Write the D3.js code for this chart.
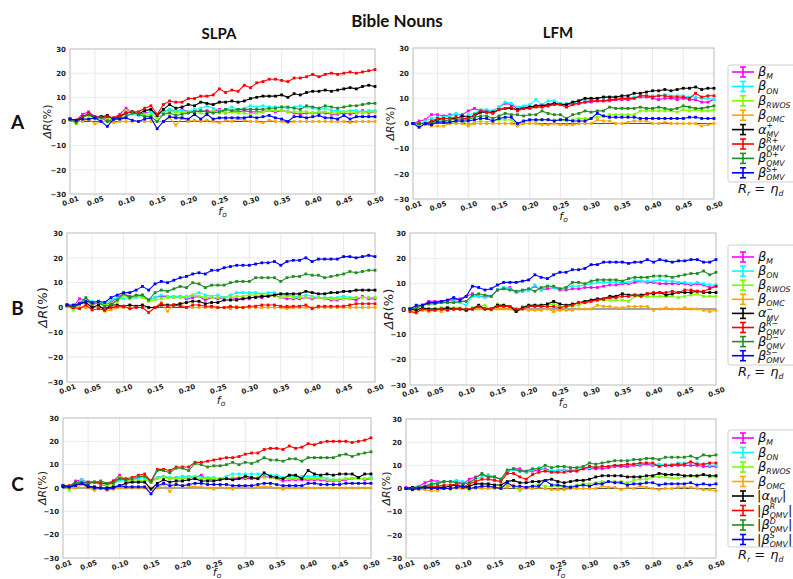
<!DOCTYPE html>
<html>
<head>
<meta charset="utf-8">
<script src="https://cdn.jsdelivr.net/npm/d3@7"></script>
<style>
  body { margin: 0; background: #fff; }
  svg { display: block; }
</style>
</head>
<body>
<svg id="chart" width="793" height="579"></svg>
<script>
// ---- shared axis values ----
const fo = [0.01, 0.02, 0.03, 0.04, 0.05, 0.06, 0.07, 0.08, 0.09, 0.10,
            0.11, 0.12, 0.13, 0.14, 0.15, 0.16, 0.17, 0.18, 0.19, 0.20,
            0.21, 0.22, 0.23, 0.24, 0.25, 0.26, 0.27, 0.28, 0.29, 0.30,
            0.31, 0.32, 0.33, 0.34, 0.35, 0.36, 0.37, 0.38, 0.39, 0.40,
            0.41, 0.42, 0.43, 0.44, 0.45, 0.46, 0.47, 0.48, 0.49, 0.50];
const xTicks = [0.01, 0.05, 0.10, 0.15, 0.20, 0.25, 0.30, 0.35, 0.40, 0.45, 0.50];
const yTicks = [-30, -20, -10, 0, 10, 20, 30];

// ---- row A, SLPA ----
const A_SLPA_M = [1, 0.5, 3, 4, 2, 2, 1, 1.5, 3, 5.5, 3.5, 3, 3.5, 4, 2.5, 4, 5, 4, 5, 4, 4.5, 4, 4.5, 4, 5, 3.5, 4, 4, 4.5, 4, 4, 4, 4.5, 4, 4.5, 4, 3.5, 3, 3.5, 3.5, 3.5, 3.5, 3, 3, 3.5, 3, 3.5, 4.5, 3.5, 4];
const A_SLPA_ON = [0.5, 0, 1.5, 3, 1, 2, 1.5, 1, 2.5, 3, 3, 2.5, 3, 4, 2.5, 4, 5, 4.5, 4.5, 4, 5, 5.5, 6.5, 5.5, 4.5, 5, 6, 5, 5.5, 6.5, 6, 6.5, 6, 6, 6, 5.5, 6, 6.5, 6, 5.5, 5, 5.5, 4.5, 4.5, 4, 4.5, 4.5, 4, 4.5, 4.5];
const A_SLPA_RWOS = [1, -1, 2, 2.5, 1.5, 2, 1.5, 1, 1.5, 4.5, 4, 3, 2.5, 3, 1.5, 3, 4, 4, 3.5, 4, 3.5, 3.5, 3, 4.5, 3.5, 3.5, 4, 3.5, 3.5, 3, 3.5, 4, 4.5, 4.5, 4.5, 4, 4, 4, 4, 3.5, 4, 4, 3.5, 3.5, 4, 4, 3.5, 3.5, 4, 4];
const A_SLPA_OMC = [1, 0, 0, 1, -1, 0, 0, -0.5, 0, 0, 0, 0, 0, 0, 0, 0, 1.5, -1.5, 1.5, 0, 0.5, 0, 0.5, 0, -0.5, 0.5, 0, 1, 0.5, 0, 0, -0.5, 0.5, 0, 0, -0.5, 0, 0, 0, 0, 0, 0, 0, 0, 0, -0.5, 0, 0, 0, 0];
const A_SLPA_ALPHA = [1, 0.5, 2, 3, 1.5, 2, 2.5, 1, 2, 3.5, 4, 3, 4.5, 5, 2.5, 5, 7, 5.5, 6, 7, 6.5, 8, 7.5, 7, 8, 8, 8.5, 8, 8.5, 9.5, 10, 10.5, 10.5, 10.5, 11, 10, 11.5, 11, 12, 12.5, 12.5, 13, 12.5, 13, 13.5, 14, 13.5, 14.5, 15, 14.5];
const A_SLPA_R = [1, 0.5, 2, 3.5, 2, 1.5, 2, 1.5, 2.5, 3.5, 4, 4, 5.5, 6.5, 3, 7, 8.5, 8, 8, 9.5, 9.5, 10.5, 10.5, 11, 13.5, 12, 13, 12.5, 15, 14, 16, 16.5, 17.5, 17.5, 17, 16.5, 18, 18, 18.5, 19.5, 18.5, 19.5, 20, 19.5, 20, 20.5, 20, 20.5, 21, 21.5];
const A_SLPA_D = [1, -0.5, 1.5, 3, 1.5, 1.5, 0, 1, 1.5, 2, 3.5, 3, 2, 2, 0, 3, 3.5, 2.5, 3, 3.5, 4, 4.5, 4, 3.5, 4, 5, 4.5, 5, 5, 5, 5, 5, 5.5, 5.5, 6, 6, 5.5, 5, 6.5, 6, 5.5, 6.5, 6, 5.5, 6, 6.5, 6.5, 7, 7.5, 7.5];
const A_SLPA_S = [1, 0.5, 1, 1, 1.5, 0, -2, 1, 1, 1.5, 0.5, 0, 1, 1.5, -3, 0, 2, 1.5, 1.5, 1, 3, 1, 3, 1, 1.5, 1.5, 1.5, 1.5, 1.5, 2, 1.5, 2, 2.5, 1.5, 1, 0, 2, 2, 1.5, 2, 2.5, 1.5, 1.5, 1, 2.5, 1, 2, 2, 2, 2];

// ---- row A, LFM ----
const A_LFM_M = [0, 1, 1.5, 3.5, 3.5, 3, 3.5, 3.5, 3.5, 5, 6, 5, 5, 5, 6.5, 8, 7.5, 6, 6.5, 6.5, 7, 7.5, 7, 8, 7.5, 7.5, 8, 8, 8.5, 8.5, 9, 9, 9, 9.5, 9.5, 9.5, 10, 10.5, 10.5, 10, 9.5, 10, 10, 9.5, 10, 9.5, 9.5, 8.5, 8.5, 9.5];
const A_LFM_ON = [0, -0.5, 1, 2, 2.5, 2.5, 3, 4, 3, 3.5, 4, 5.5, 5.5, 5, 6.5, 8.5, 8, 6.5, 7, 7.5, 9.5, 7.5, 9, 9, 8, 8, 8, 9, 9.5, 9.5, 10, 10.5, 10.5, 10.5, 10, 10, 10.5, 11, 11, 11, 11, 11.5, 11, 11, 11, 10.5, 10.5, 10, 10, 9.5];
const A_LFM_RWOS = [0, 0, 0, -0.5, 0.5, 1, 0.5, 0.5, 1, -0.5, 0.5, 1, 0.5, 1, 1.5, 1.5, 1.5, -0.5, 0.5, 1, 1, 1.5, 1.5, 1.5, 1.5, 1, 1.5, 2, 2, 2, 2.5, 3, 3.5, 3.5, 3.5, 3.5, 3.5, 5, 5, 5, 5, 5, 5, 4.5, 5.5, 5, 5.5, 5, 5, 5.5];
const A_LFM_OMC = [0, 0, -0.5, -1, -1, -1, 0, 0, 0, -1, 0, 0, 0, 0, 0, 0, 0, -1, 0, 0, 0, -0.5, -0.5, 0, -0.5, -0.5, -0.5, 0, 0, 0, 1.5, 1, 1, 0, 0, 0.5, 1, 1, 1, 0, 0, 0.5, 0, 0, 0, 0, 0, -1, -0.5, 0];
const A_LFM_ALPHA = [0, 0, 0, 0.5, 1.5, 2, 2, 2, 3, 2.5, 3, 4.5, 4.5, 4.5, 5.5, 6, 6, 5.5, 6, 6.5, 7, 7, 7.5, 8, 7.5, 7.5, 8.5, 9, 10, 10, 10, 10.5, 10.5, 10.5, 11, 11, 12, 12, 12.5, 13, 13, 13.5, 13, 13.5, 14, 14, 14.5, 13.5, 14, 14];
const A_LFM_R = [0, 0, 0, 1, 2, 2, 2, 2.5, 2, 2, 3.5, 5, 4.5, 4, 5.5, 6, 6.5, 5, 6, 6, 6.5, 6.5, 7, 7.5, 7.5, 6.5, 7.5, 8, 8.5, 9, 9, 9, 9.5, 9.5, 10, 10, 10, 11, 11, 10.5, 11, 11, 10.5, 10.5, 10.5, 10, 12, 10.5, 11, 11];
const A_LFM_D = [0, 0, 0, 0, 1, 1, 1.5, 1.5, 1.5, 1.5, 2.5, 3, 3, 2, 3, 4, 3.5, 3.5, 3, 3.5, 3.5, 5, 4, 3.5, 3.5, 2, 3.5, 4, 5, 4.5, 5, 5, 6.5, 6, 6, 6, 6, 6.5, 6, 6, 6.5, 6, 5.5, 6, 7, 6.5, 6, 6, 6.5, 7];
const A_LFM_S = [0, -1.5, 0, -0.5, 0.5, 0.5, 0.5, 1, 1, 1, 1.5, 2, 2, 1, 2, 2.5, 2.5, 0, 1, 1.5, 1.5, 1.5, 1.5, 1, 1.5, 1.5, 1, 1, 1, 2, 4, 3, 2.5, 2.5, 2.5, 2.5, 2.5, 2, 2, 2, 2, 2, 2, 2, 2, 2.5, 2.5, 2, 2, 2];

// ---- row B, SLPA ----
const B_SLPA_M = [0.5, 0.5, 3.5, 3, 1, 2, 1, 2, 4, 5.5, 4.5, 4.5, 5, 3, 4, 4.5, 4.5, 4, 4.5, 3.5, 4, 4.5, 3, 4, 3.5, 4, 4, 3.5, 3.5, 3.5, 4.5, 4, 5, 5, 4, 3.5, 3.5, 3.5, 4, 3.5, 4, 3.5, 3, 3, 3.5, 3.5, 3, 4.5, 3.5, 3.5];
const B_SLPA_ON = [0.5, 0.5, 2, 3, 2.5, 2.5, 1.5, 3, 4, 3.5, 3.5, 4, 4.5, 3, 4, 5, 4.5, 4.5, 4.5, 4, 5, 6, 5, 4.5, 5, 4, 5, 6, 6, 6, 6, 5.5, 6, 6, 5, 5, 4.5, 4.5, 5, 4.5, 4, 4, 4, 4, 4.5, 4, 4, 4, 4, 4];
const B_SLPA_RWOS = [0.5, -1, 1.5, 2.5, 1.5, 1.5, 1, 1.5, 2.5, 5, 3.5, 4.5, 4, 2.5, 3, 3.5, 4, 4, 4, 4.5, 5, 4.5, 4, 4, 4, 4, 4, 4.5, 4.5, 5, 5, 5, 5, 4.5, 4, 4.5, 4, 4, 4, 4, 4, 3.5, 3.5, 3.5, 3.5, 3.5, 4, 4, 4, 4];
const B_SLPA_OMC = [1, 0, 0, 0, 0, 0, -1.5, -1, 0, 0, 0, 0, 0, 0, 0, 2, -1.5, 1, 1.5, 0, 0, 0, 0, 0, 0, 0, -0.5, 0.5, 0, 0, 0, 0, 0, 0, 0, -0.5, 0, 0, 0, 0, 0, 0, 0, 0, 0, 0, 0, 0, 0, 0];
const B_SLPA_ALPHA = [1, 0, 1.5, 2, 0, 1, -1, 1, 1, 0.5, 1, 0.5, 1, 0, 0, 1, 1, 1, 1.5, 2, 2.5, 2.5, 1.5, 2, 2, 3, 3, 3, 3.5, 4, 4, 4.5, 4.5, 5, 5.5, 5.5, 5.5, 5.5, 6.5, 6, 5.5, 5.5, 6, 6, 6.5, 6.5, 7, 7, 7, 7];
const B_SLPA_R = [1, 0, -0.5, 1, -1, -0.5, -1, 0, 0.5, 0.5, -0.5, 0, 0, -2, 0, 1.5, 0.5, 1, 0.5, 0, 1, 1, 0.5, 0.5, 0, 0, 0.5, 0, 0, 0.5, 0.5, 1, 1, 1, 0.5, 0.5, 0.5, 0.5, 1, -0.5, 0.5, 0.5, 0.5, 0.5, 0.5, 1, 1.5, 1.5, 1.5, 1.5];
const B_SLPA_D = [1, 0.5, 1.5, 4, 1.5, 2, 0.5, 1, 3, 5.5, 4, 5, 5, 3, 6, 7, 6.5, 7.5, 8.5, 8, 10, 9.5, 8, 9, 9, 9, 10, 10.5, 10.5, 10.5, 12, 12, 12, 12, 10.5, 12, 12.5, 12.5, 13.5, 13, 13, 12, 12.5, 13, 13.5, 14.5, 14, 14.5, 15, 15];
const B_SLPA_S = [1, 1, 1.5, 2.5, 2, 2.5, 2, 4, 5, 6, 6, 7, 8.5, 7, 9.5, 10.5, 10, 11, 12, 12.5, 13.5, 14, 13.5, 15, 15, 16, 16.5, 17, 17, 17, 17.5, 18, 18, 18.5, 17, 18.5, 19, 19, 20, 18.5, 19.5, 19.5, 19.5, 19.5, 20.5, 20.5, 20, 20.5, 21, 20.5];

// ---- row B, LFM ----
const B_LFM_M = [0, 0.5, 1.5, 3, 3, 3, 3.5, 3.5, 4, 5, 6, 5, 5, 5, 7.5, 8, 8.5, 6.5, 7, 7.5, 9, 7.5, 8, 8.5, 7.5, 7.5, 8, 8, 8.5, 8.5, 8.5, 9, 9.5, 9.5, 10, 10, 10.5, 11, 10.5, 10.5, 10, 10, 10, 10, 10, 9.5, 10, 9.5, 8.5, 9];
const B_LFM_ON = [0, 0, 1.5, 2, 2.5, 2.5, 2.5, 3, 2.5, 1.5, 5, 5, 4.5, 5, 7.5, 8.5, 8, 6.5, 7, 7.5, 9.5, 7.5, 9, 8.5, 8, 8.5, 9, 9, 9.5, 10, 10.5, 10.5, 10.5, 10.5, 10.5, 10.5, 11.5, 11, 11, 11, 11.5, 11, 11, 10.5, 10.5, 10, 10.5, 10, 9.5, 9.5];
const B_LFM_RWOS = [0, 0, 0.5, 0, 0, 0.5, 0.5, 0.5, 0.5, -0.5, 0.5, 1, 1.5, -0.5, 2, 1.5, 1, -1, 1, 1.5, 1.5, 1.5, 1.5, 2, 1, 1, 1, 1.5, 2.5, 3.5, 3.5, 3.5, 3.5, 3.5, 3.5, 3, 5, 5, 5, 5, 5, 5, 5, 4.5, 5, 5.5, 6, 5, 5, 5];
const B_LFM_OMC = [-0.5, -1, -0.5, -1, -0.5, -1, 0, 0, 0, -0.5, 0, 0, 0, 0, 0, 0, 0, -1, 0, -0.5, -0.5, -0.5, 0, -1, -0.5, -0.5, -0.5, 0, 0, 0, 1.5, 1, 1, 0.5, 0.5, 1, 1, 1, 1, -0.5, 0, 0.5, 0, 0, 0.5, 0, 0, -0.5, -1, -0.5];
const B_LFM_ALPHA = [0, -0.5, 0.5, 0, 0, 0, 0.5, 0, 0, -0.5, 0, 1.5, 0, 0, 1.5, 1.5, 1, -1, 0.5, 1.5, 1.5, 1.5, 2, 3, 2, 1.5, 2, 2.5, 3, 3.5, 4, 4, 5, 5, 6, 5.5, 5.5, 5.5, 6, 6, 6.5, 5.5, 6, 6.5, 6.5, 6.5, 7, 6.5, 6.5, 6.5];
const B_LFM_R = [-1, -1.5, 0, -0.5, -0.5, 0, -0.5, 0, 0, 0, 0, 1, 0, 0, 1, 1, 1, 0, 0, 1, 1, 1, 1, 1, 0.5, 1, 1.5, 2.5, 2.5, 3, 3.5, 4, 4.5, 4.5, 5, 5, 5.5, 5, 6, 6.5, 6.5, 6.5, 7, 6.5, 7.5, 7.5, 7, 7, 8, 9];
const B_LFM_D = [0, 0.5, 1.5, 2, 2, 2.5, 2.5, 2.5, 3, 3, 5.5, 6, 5.5, 5, 7.5, 8, 7.5, 7, 7.5, 8, 7, 8.5, 9, 9, 8, 8.5, 10.5, 10.5, 10, 11, 11.5, 11.5, 11.5, 11.5, 11, 12, 12.5, 12.5, 12.5, 13, 13, 13, 12.5, 13, 13.5, 14, 14, 15, 13.5, 14.5];
const B_LFM_S = [0, 1.5, 1.5, 2.5, 2.5, 3, 3.5, 4.5, 3.5, 5, 9, 8.5, 7.5, 8, 9.5, 10.5, 10.5, 10.5, 11, 11.5, 13.5, 12.5, 12, 13.5, 14.5, 14.5, 15.5, 15.5, 16, 17.5, 17.5, 18.5, 18.5, 18.5, 18.5, 18, 18.5, 18.5, 19.5, 18.5, 19.5, 19, 18.5, 19, 19, 19.5, 19.5, 18.5, 18.5, 19.5];

// ---- row C, SLPA ----
const C_SLPA_M = [1, 0.5, 3, 3.5, 2.5, 2.5, 1.5, 1, 3, 5.5, 3, 3, 4.5, 5, 3, 4.5, 5, 4, 4.5, 4, 4.5, 4.5, 5.5, 3.5, 4, 4, 4, 4, 4, 4, 4, 4, 5, 4.5, 4, 3, 3.5, 3.5, 3.5, 3.5, 3.5, 3.5, 3, 3, 3, 3.5, 4, 4.5, 3.5, 4];
const C_SLPA_ON = [1, 0, 2, 3.5, 2, 2.5, 2, 1.5, 2, 3, 3.5, 3.5, 4, 4.5, 2.5, 4.5, 5, 4.5, 4.5, 5, 5, 5, 4.5, 4.5, 4.5, 4, 5, 6, 6, 6, 6, 6, 6, 5.5, 5.5, 4.5, 5, 5, 5, 5, 5, 5, 4, 3.5, 3.5, 4, 4, 4, 4, 4.5];
const C_SLPA_RWOS = [1, -1, 2, 2.5, 2, 2.5, 2, 1, 2, 4.5, 3.5, 3, 3, 3.5, 2.5, 4, 4.5, 4, 4, 4, 4.5, 4.5, 4, 4, 4, 4, 4, 4.5, 4.5, 4.5, 4.5, 4.5, 4.5, 4.5, 4, 4, 4, 4, 4, 4, 4, 4, 3.5, 3.5, 3.5, 4, 4, 4, 4, 4];
const C_SLPA_OMC = [1, 0, 0, 1.5, 0, -1, 0, -1, -0.5, 0, 0, 0, 0, 0, 0, 0, 1.5, -1.5, 1.5, 1, 1, 0.5, 0.5, 0, -0.5, 0.5, 0, -0.5, 0.5, 0.5, 0, 0.5, 0.5, 0.5, 0, -0.5, 0, 0, 0, 0, 0, 0, 0, 0, 0, 0, 0, 0, 0, 0];
const C_SLPA_ALPHA = [0.5, 0.5, 1.5, 2, 0.5, 0.5, 0, 0, 0.5, 1, 2, 2.5, 2.5, 2.5, -0.5, 2, 3.5, 2.5, 3, 3, 3.5, 4, 3, 3, 3, 3.5, 4, 3.5, 4, 5, 4.5, 4, 6.5, 5, 4.5, 4, 5.5, 5.5, 4, 7.5, 6, 5.5, 6, 5.5, 6, 6, 6, 4.5, 6, 6];
const C_SLPA_R = [1, 1, 1.5, 2, 2.5, 2.5, 2, 2, 3, 4, 4, 4.5, 5.5, 6, 3, 8, 8, 7.5, 9, 9, 9, 11, 11, 11.5, 12, 12.5, 13, 13, 13.5, 14.5, 15, 15, 16.5, 17, 17, 16.5, 18, 17, 17.5, 19, 18.5, 19.5, 20, 20, 20, 20, 19.5, 20, 20.5, 21.5];
const C_SLPA_D = [1, 0.5, 2.5, 2.5, 2, 2.5, 3, 2, 2, 4, 3.5, 4, 5, 5, 2.5, 7.5, 7.5, 6.5, 8.5, 8.5, 7.5, 10.5, 10, 9, 9.5, 9.5, 10, 11, 10, 11, 10.5, 11.5, 13, 12, 12, 11.5, 12.5, 12.5, 11.5, 13, 13, 13, 13, 13, 14, 14.5, 13.5, 14.5, 15, 15.5];
const C_SLPA_S = [1, 0.5, 1, 2, 1, 0, 0, -0.5, 0, 1, 0.5, 0.5, 0.5, 0.5, -2.5, 1, 2, 1, 1.5, 1, 1.5, 2, 2, 1.5, 1.5, 1.5, 1.5, 1, 1, 1, 1, 1.5, 2, 2, 1.5, 1, 1, 1, 1, 2, 2, 1.5, 1.5, 1.5, 1.5, 2, 2, 2, 2, 2];

// ---- row C, LFM ----
const C_LFM_M = [0.5, 0, 1, 2.5, 3.5, 3, 3, 3, 3, 2, 4, 5, 6, 5, 5, 4, 7, 8.5, 8.5, 7, 7.5, 8, 8.5, 7.5, 7.5, 8, 7.5, 8, 8.5, 8.5, 8.5, 8.5, 9, 9.5, 9.5, 9.5, 10, 10, 10.5, 10, 10, 10, 10, 10, 10, 10, 10, 9.5, 9.5, 9.5];
const C_LFM_ON = [0, 0, 1, 1, 2, 2.5, 3, 3, 3.5, 3, 2.5, 4, 5, 6, 5, 4, 7.5, 8, 7.5, 7, 8, 9, 8, 7.5, 8, 8, 8, 8, 9, 9, 9.5, 9.5, 9.5, 10, 10, 10.5, 10.5, 10.5, 11, 10.5, 10.5, 10.5, 10.5, 11, 11, 11, 11, 10.5, 10, 10];
const C_LFM_RWOS = [0, 0, -0.5, 0, 0, 0.5, 0.5, -0.5, 0.5, 0.5, -0.5, 0.5, 0.5, 1, 0.5, 0.5, 1.5, 1, -1, 0.5, 1, 2, 1, 1, 1, 0.5, 1, 1.5, 2, 2, 2.5, 3, 3, 3, 3, 2.5, 3.5, 4, 4, 5, 5, 5, 4.5, 4.5, 5, 5.5, 5, 6, 5, 5];
const C_LFM_OMC = [0, 0, -0.5, -0.5, -1, -1, 0, 0, 0, 0, 0, 0, 0, 0, 0, 0, 0.5, 1.5, 0, 0, 0, 0.5, 0, -0.5, -0.5, -0.5, 0, 0, 0, 0, 0, 1, 0.5, 0.5, -0.5, 0.5, 0, 1, 0.5, 0, -0.5, 0, 0, 0.5, 0.5, 0.5, 0, -0.5, -0.5, -1];
const C_LFM_ALPHA = [0, 0.5, 0.5, 0.5, 0.5, 0.5, 0.5, 1, 1.5, 0.5, 1, 2, 2, 2, 1.5, 1.5, 3, 3.5, 2.5, 2.5, 3, 3, 3.5, 4, 3, 2.5, 3, 3.5, 3.5, 4, 5, 5.5, 5.5, 5.5, 5.5, 5, 5, 5, 5.5, 5.5, 6.5, 6, 6, 6, 5.5, 5.5, 5.5, 6, 5.5, 5.5];
const C_LFM_R = [0, -0.5, 0.5, 1, 1, 1, 1.5, 1.5, 2, 0.5, 2, 3, 4, 4, 3.5, 3, 6.5, 6.5, 5, 4, 6, 7, 7.5, 7, 7, 7, 7.5, 7.5, 8.5, 9.5, 9, 9.5, 9.5, 10, 10, 10.5, 10.5, 11, 11, 11, 9.5, 10, 10, 10.5, 10.5, 11.5, 10.5, 10.5, 11, 11];
const C_LFM_D = [0, 0, 0.5, 1, 2, 2, 3, 3, 2.5, 2, 2.5, 4.5, 6.5, 5, 5, 4, 8, 8.5, 7.5, 7.5, 8.5, 8.5, 10, 9, 9.5, 9.5, 9, 9, 9.5, 11, 10.5, 11, 11.5, 12, 12, 12, 12.5, 12.5, 13, 13, 12.5, 13.5, 13.5, 13.5, 13.5, 14, 13, 14.5, 14, 14.5];
const C_LFM_S = [0, -0.5, 0, 0.5, 0, 0, 0, 0, 0.5, 1, 0, 0.5, 1, 1, 0.5, 0, 2.5, 1, 1, 0.5, 1, 1, 3.5, 1.5, 1.5, 1, 0.5, 1, 1.5, 1, 2, 2, 3, 2.5, 2.5, 1.5, 2, 2, 2.5, 2.5, 1.5, 2, 2, 2, 2, 2.5, 1.5, 2, 1.5, 2];

// ---- series styling, in legend / drawing order ----
const seriesColors = ['#ff00ff', '#00ffff', '#7cfc00', '#ffa500', '#000000', '#ff0000', '#228b22', '#0000ff'];

// legend entries: symbol, superscript, subscript, optional bars
const legendA = [
  { sym: 'β', sub: 'M' }, { sym: 'β', sub: 'ON' }, { sym: 'β', sub: 'RWOS' }, { sym: 'β', sub: 'OMC' },
  { sym: 'α', sup: '+', sub: 'MV' }, { sym: 'β', sup: 'R+', sub: 'OMV' },
  { sym: 'β', sup: 'D+', sub: 'OMV' }, { sym: 'β', sup: 'S+', sub: 'OMV' }
];
const legendB = [
  { sym: 'β', sub: 'M' }, { sym: 'β', sub: 'ON' }, { sym: 'β', sub: 'RWOS' }, { sym: 'β', sub: 'OMC' },
  { sym: 'α', sup: '−', sub: 'MV' }, { sym: 'β', sup: 'R−', sub: 'OMV' },
  { sym: 'β', sup: 'D−', sub: 'OMV' }, { sym: 'β', sup: 'S−', sub: 'OMV' }
];
const legendC = [
  { sym: 'β', sub: 'M' }, { sym: 'β', sub: 'ON' }, { sym: 'β', sub: 'RWOS' }, { sym: 'β', sub: 'OMC' },
  { sym: 'α', sub: 'MV', bars: true }, { sym: 'β', sup: 'R', sub: 'OMV', bars: true },
  { sym: 'β', sup: 'D', sub: 'OMV', bars: true }, { sym: 'β', sup: 'S', sub: 'OMV', bars: true }
];

// ---- layout ----
const panels = [
  { x0: 70, x1: 375, y0: 49, y1: 194, ylx: 47, yls: 11, xlo: 21, series: [A_SLPA_M, A_SLPA_ON, A_SLPA_RWOS, A_SLPA_OMC, A_SLPA_ALPHA, A_SLPA_R, A_SLPA_D, A_SLPA_S] },
  { x0: 413, x1: 714, y0: 48, y1: 199, ylx: 390, yls: 11, xlo: 21, series: [A_LFM_M, A_LFM_ON, A_LFM_RWOS, A_LFM_OMC, A_LFM_ALPHA, A_LFM_R, A_LFM_D, A_LFM_S] },
  { x0: 67, x1: 375, y0: 233, y1: 382, ylx: 42, yls: 13, xlo: 22, series: [B_SLPA_M, B_SLPA_ON, B_SLPA_RWOS, B_SLPA_OMC, B_SLPA_ALPHA, B_SLPA_R, B_SLPA_D, B_SLPA_S] },
  { x0: 410, x1: 716, y0: 233, y1: 385, ylx: 388, yls: 13, xlo: 21, series: [B_LFM_M, B_LFM_ON, B_LFM_RWOS, B_LFM_OMC, B_LFM_ALPHA, B_LFM_R, B_LFM_D, B_LFM_S] },
  { x0: 63, x1: 371, y0: 418, y1: 558, ylx: 42, yls: 11, xlo: 18, series: [C_SLPA_M, C_SLPA_ON, C_SLPA_RWOS, C_SLPA_OMC, C_SLPA_ALPHA, C_SLPA_R, C_SLPA_D, C_SLPA_S] },
  { x0: 406, x1: 716, y0: 419, y1: 558, ylx: 386, yls: 11, xlo: 18, series: [C_LFM_M, C_LFM_ON, C_LFM_RWOS, C_LFM_OMC, C_LFM_ALPHA, C_LFM_R, C_LFM_D, C_LFM_S] }
];

const legends = [
  { entries: legendA, boxTop: 65, boxBottom: 182, firstY: 72, step: 14.4, rrY: 193 },
  { entries: legendB, boxTop: 245, boxBottom: 365, firstY: 257, step: 14.1, rrY: 376 },
  { entries: legendC, boxTop: 430, boxBottom: 547, firstY: 438, step: 14.5, rrY: 559 }
];

const svg = d3.select('#chart');
svg.append('rect').attr('width', 793).attr('height', 579).attr('fill', '#fff');

const SANS = 'DejaVu Sans, sans-serif';

function drawPanel(p) {
  const x = d3.scaleLinear().domain([0.01, 0.50]).range([p.x0, p.x1]);
  const y = d3.scaleLinear().domain([-30, 30]).range([p.y1, p.y0]);
  const g = svg.append('g');

  // grid
  g.selectAll('line.gx').data(xTicks).join('line')
    .attr('x1', d => x(d)).attr('x2', d => x(d)).attr('y1', p.y0).attr('y2', p.y1)
    .attr('stroke', '#e4e4e4').attr('stroke-width', 0.8);
  g.selectAll('line.gy').data(yTicks).join('line')
    .attr('x1', p.x0).attr('x2', p.x1).attr('y1', d => y(d)).attr('y2', d => y(d))
    .attr('stroke', '#e4e4e4').attr('stroke-width', 0.8);

  // frame
  g.append('rect').attr('x', p.x0).attr('y', p.y0)
    .attr('width', p.x1 - p.x0).attr('height', p.y1 - p.y0)
    .attr('fill', 'none').attr('stroke', '#c4c4c4').attr('stroke-width', 1);

  // y axis
  const ya = g.append('g').attr('transform', `translate(${p.x0},0)`)
    .call(d3.axisLeft(y).tickValues(yTicks).tickSize(0).tickPadding(4).tickFormat(d3.format('d')));
  ya.select('.domain').remove();
  ya.selectAll('text').attr('font-family', SANS).attr('font-weight', 'bold')
    .attr('font-size', 7).attr('fill', '#222');

  // x axis with tilted labels
  const xa = g.append('g').attr('transform', `translate(0,${p.y1})`)
    .call(d3.axisBottom(x).tickValues(xTicks).tickSize(0).tickFormat(d3.format('.2f')));
  xa.select('.domain').remove();
  xa.selectAll('text').attr('font-family', SANS).attr('font-weight', 'bold')
    .attr('font-size', 7).attr('fill', '#222')
    .attr('y', 0).attr('dy', '0.35em').attr('text-anchor', 'middle')
    .attr('transform', 'translate(0,7) rotate(-20)');

  // zero reference
  g.append('line').attr('x1', p.x0).attr('x2', p.x1).attr('y1', y(0)).attr('y2', y(0))
    .attr('stroke', '#555').attr('stroke-width', 1.2);

  // series
  const line = d3.line().x((d, i) => x(fo[i])).y(d => y(d));
  p.series.forEach((vals, k) => {
    const col = seriesColors[k];
    g.append('path').datum(vals).attr('d', line)
      .attr('fill', 'none').attr('stroke', col).attr('stroke-width', 1.1);
    g.selectAll(null).data(vals).join('rect')
      .attr('x', (d, i) => x(fo[i]) - 1.4).attr('y', d => y(d) - 1.4)
      .attr('width', 2.8).attr('height', 2.8).attr('fill', col);
  });

  // axis titles
  const yl = svg.append('text')
    .attr('transform', `translate(${p.ylx},${(p.y0 + p.y1) / 2}) rotate(-90)`)
    .attr('text-anchor', 'middle').attr('dy', '0.35em')
    .attr('font-family', SANS).attr('font-size', p.yls).attr('fill', '#222');
  yl.append('tspan').attr('font-style', 'italic').text('ΔR');
  yl.append('tspan').text('(%)');

  const xl = svg.append('text')
    .attr('x', (p.x0 + p.x1) / 2).attr('y', p.y1 + p.xlo)
    .attr('text-anchor', 'middle')
    .attr('font-family', SANS).attr('font-size', 11).attr('font-style', 'italic').attr('fill', '#222');
  xl.append('tspan').text('f');
  xl.append('tspan').attr('font-size', 7.5).attr('dy', 2).text('o');
}

// math-style label: pieces of {t, it, sup, sub}
function mathText(x, y, pieces, size) {
  let cx = x;
  const small = size * 0.6;
  pieces.forEach(pc => {
    if (pc.gap) { cx += pc.gap; return; }
    const t = svg.append('text').attr('x', cx).attr('y', y)
      .attr('font-family', SANS).attr('font-size', size)
      .attr('font-style', pc.it ? 'italic' : 'normal').attr('fill', '#111').text(pc.t);
    cx += t.node().getComputedTextLength();
    let w = 0;
    if (pc.sup) {
      const s = svg.append('text').attr('x', cx).attr('y', y - size * 0.4)
        .attr('font-family', SANS).attr('font-size', small)
        .attr('font-style', 'italic').attr('fill', '#111').text(pc.sup);
      w = Math.max(w, s.node().getComputedTextLength());
    }
    if (pc.sub) {
      const s = svg.append('text').attr('x', cx).attr('y', y + size * 0.24)
        .attr('font-family', SANS).attr('font-size', small)
        .attr('font-style', 'italic').attr('fill', '#111').text(pc.sub);
      w = Math.max(w, s.node().getComputedTextLength());
    }
    cx += w;
  });
}

function drawLegend(L) {
  svg.append('rect').attr('x', 728).attr('y', L.boxTop)
    .attr('width', 80).attr('height', L.boxBottom - L.boxTop)
    .attr('rx', 2).attr('fill', '#fff').attr('stroke', '#cfcfcf');
  L.entries.forEach((e, i) => {
    const yy = L.firstY + i * L.step;
    const col = seriesColors[i];
    const g = svg.append('g').attr('stroke', col).attr('stroke-width', 1.6);
    g.append('line').attr('x1', 732).attr('x2', 754).attr('y1', yy).attr('y2', yy);
    g.append('line').attr('x1', 743).attr('x2', 743).attr('y1', yy - 5).attr('y2', yy + 5);
    g.append('line').attr('x1', 740).attr('x2', 746).attr('y1', yy - 5).attr('y2', yy - 5);
    g.append('line').attr('x1', 740).attr('x2', 746).attr('y1', yy + 5).attr('y2', yy + 5);
    const pieces = [];
    if (e.bars) pieces.push({ t: '|' });
    pieces.push({ t: e.sym, it: true, sup: e.sup, sub: e.sub });
    if (e.bars) pieces.push({ t: '|' });
    mathText(e.bars ? 757 : 758, yy + 4, pieces, 13);
  });
  mathText(738, L.rrY, [
    { t: 'R', it: true, sub: 'r' }, { gap: 4 }, { t: '=' }, { gap: 5 }, { t: 'η', it: true, sub: 'd' }
  ], 13);
}

panels.forEach(drawPanel);
legends.forEach(drawLegend);

// headings
svg.append('text').attr('x', 397).attr('y', 27).attr('text-anchor', 'middle')
  .attr('font-family', 'Lato, sans-serif').attr('font-weight', 'bold').attr('font-size', 17)
  .attr('fill', '#111').text('Bible Nouns');
svg.append('text').attr('x', 219).attr('y', 39).attr('text-anchor', 'middle')
  .attr('font-family', 'Lato, sans-serif').attr('font-weight', 'bold').attr('font-size', 15)
  .attr('fill', '#111').text('SLPA');
svg.append('text').attr('x', 558).attr('y', 38).attr('text-anchor', 'middle')
  .attr('font-family', 'Lato, sans-serif').attr('font-weight', 'bold').attr('font-size', 15)
  .attr('fill', '#111').text('LFM');

const rowLetters = [{ t: 'A', y: 129 }, { t: 'B', y: 315 }, { t: 'C', y: 491 }];
rowLetters.forEach(r => {
  svg.append('text').attr('x', 17.5).attr('y', r.y).attr('text-anchor', 'middle')
    .attr('font-family', 'Lato, sans-serif').attr('font-weight', 'bold').attr('font-size', 19)
    .attr('fill', '#111').text(r.t);
});
</script>
</body>
</html>
